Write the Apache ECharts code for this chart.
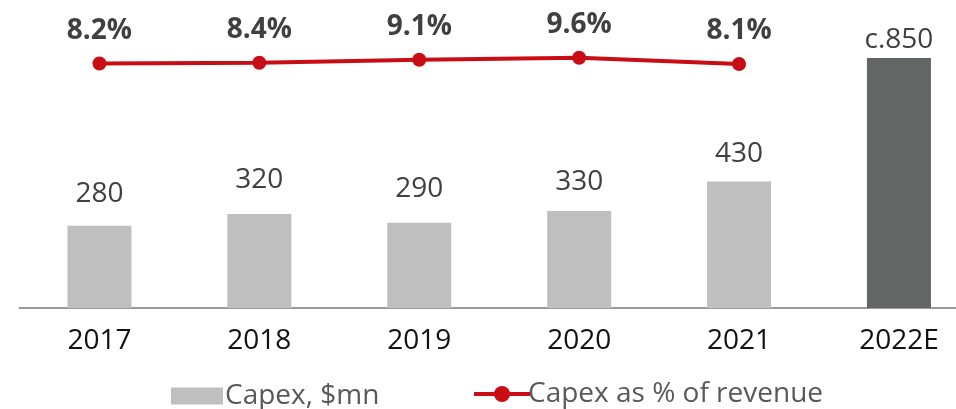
<!DOCTYPE html>
<html>
<head>
<meta charset="utf-8">
<script src="https://cdn.jsdelivr.net/npm/echarts@6/dist/echarts.min.js"></script>
<style>
  html, body { margin: 0; padding: 0; background: #ffffff; }
  #chart { width: 956px; height: 409px; }
</style>
</head>
<body>
<div id="chart"></div>
<script>
// Capex by year, $mn (last year is an estimate)
const years = ['2017', '2018', '2019', '2020', '2021', '2022E'];
const capex = [280, 320, 290, 330, 430, 850];
// Capex as a share of revenue, % (no figure for the estimate year)
const capexPctRevenue = [8.2, 8.4, 9.1, 9.6, 8.1, null];

const seriesNames = ['Capex, $mn', 'Capex as % of revenue'];

// styling
const FONT = '"Open Sans", "DejaVu Sans", sans-serif';
const RED = '#C80D15';
const BAR_ACTUAL = '#BFBFBF';
const BAR_ESTIMATE = '#646665';
const TEXT_DARK = '#404040';
// space between each bar top and its value label
const valueLabelGap = [18, 19.5, 19.5, 15, 14, 4];

const isEstimate = y => /E$/.test(y);

const barData = capex.map((v, i) => ({
  value: v,
  itemStyle: { color: isEstimate(years[i]) ? BAR_ESTIMATE : BAR_ACTUAL },
  label: { distance: valueLabelGap[i] }
}));

const chart = echarts.init(document.getElementById('chart'), null, { renderer: 'canvas' });

chart.setOption({
  animation: false,
  backgroundColor: '#ffffff',
  textStyle: { fontFamily: FONT },
  // the plot runs a little past the right edge so the last bar sits near it
  grid: {
    left: 19.5, width: 959.4, top: 14, bottom: 101,
    containLabel: false, outerBoundsMode: 'none'
  },
  legend: [
    {
      data: [seriesNames[0]],
      left: 166, top: 377,
      itemWidth: 52, itemHeight: 17, itemGap: 0,
      textStyle: { fontFamily: FONT, fontSize: 28, color: '#595959', padding: [0, 0, 0, -3] },
      icon: 'rect'
    },
    {
      data: [seriesNames[1]],
      left: 467, top: 375,
      itemWidth: 56, itemHeight: 20, itemGap: 0,
      lineStyle: { width: 4 },
      textStyle: { fontFamily: FONT, fontSize: 28, color: '#595959', padding: [0, 0, 0, -7] }
    }
  ],
  xAxis: {
    type: 'category',
    data: years,
    axisLine: { lineStyle: { color: '#9A9A9A', width: 2 } },
    axisTick: { show: false },
    axisLabel: { color: '#111111', fontSize: 28, fontFamily: FONT, margin: 19 }
  },
  yAxis: [
    { type: 'value', min: 0, max: 1000, show: false, splitLine: { show: false } },
    { type: 'value', min: -50, max: 20, show: false, splitLine: { show: false } }
  ],
  series: [
    {
      name: seriesNames[0],
      type: 'bar',
      barWidth: 64,
      data: barData,
      itemStyle: { color: BAR_ACTUAL },
      label: {
        show: true,
        position: 'top',
        color: TEXT_DARK,
        fontSize: 28,
        fontFamily: FONT,
        formatter: p => (isEstimate(years[p.dataIndex]) ? 'c.' : '') + p.value
      }
    },
    {
      name: seriesNames[1],
      type: 'line',
      yAxisIndex: 1,
      data: capexPctRevenue,
      symbol: 'circle',
      symbolSize: 14,
      lineStyle: { color: RED, width: 4 },
      itemStyle: { color: RED },
      label: {
        show: true,
        position: 'top',
        distance: 12,
        color: TEXT_DARK,
        fontSize: 28,
        fontWeight: 'bold',
        fontFamily: FONT,
        formatter: p => p.value.toFixed(1) + '%'
      }
    }
  ]
});
</script>
</body>
</html>
